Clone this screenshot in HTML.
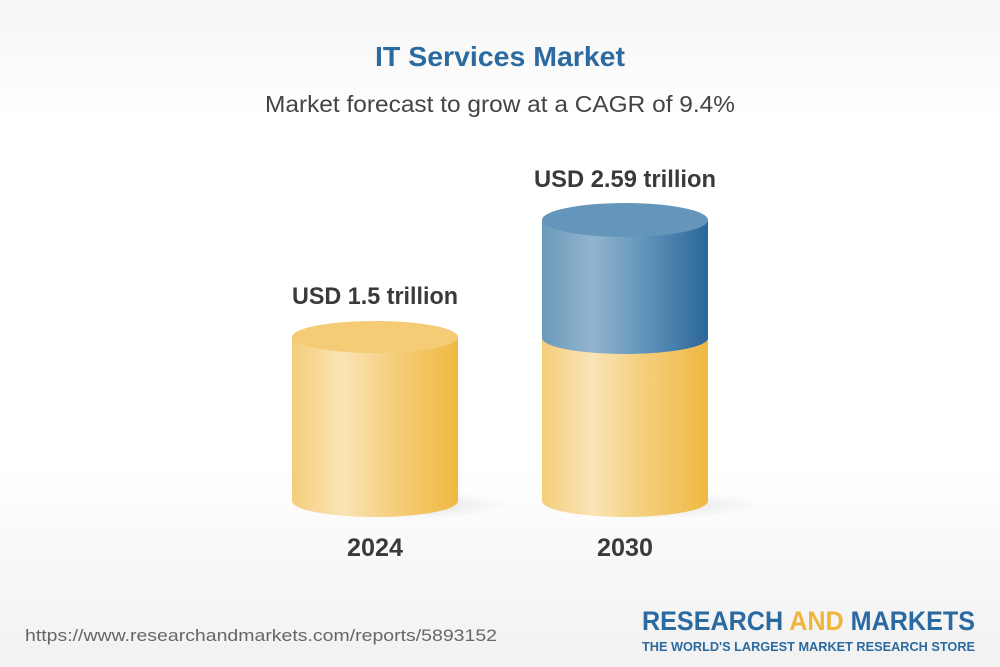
<!DOCTYPE html>
<html><head><style>
body{margin:0;width:1000px;height:667px;overflow:hidden;font-family:"Liberation Sans",Arial,sans-serif;background:linear-gradient(#f6f6f6 0%,#fff 18%,#fff 70%,#f1f1f1 100%);position:relative}
</style></head><body>
<svg width="1000" height="667" style="position:absolute;left:0;top:0">
<defs>
<linearGradient id="y" x1="0" x2="1"><stop offset="0" stop-color="#f4cd7a"/><stop offset="0.3" stop-color="#fae4b6"/><stop offset="0.6" stop-color="#f5cf7e"/><stop offset="1" stop-color="#efb842"/></linearGradient>
<linearGradient id="b" x1="0" x2="1"><stop offset="0" stop-color="#6a9aba"/><stop offset="0.3" stop-color="#93b4cd"/><stop offset="0.6" stop-color="#6496bc"/><stop offset="1" stop-color="#2a6699"/></linearGradient>
<radialGradient id="sh"><stop offset="0" stop-color="#000" stop-opacity="0.12"/><stop offset="1" stop-color="#000" stop-opacity="0"/></radialGradient>
</defs>
<text x="500" y="66" text-anchor="middle" font-size="28" font-weight="bold" fill="#2d6a9f" textLength="250" lengthAdjust="spacingAndGlyphs">IT Services Market</text>
<text x="500" y="112" text-anchor="middle" font-size="23" fill="#444" textLength="470" lengthAdjust="spacingAndGlyphs">Market forecast to grow at a CAGR of 9.4%</text>
<ellipse cx="400" cy="505" rx="110" ry="14" fill="url(#sh)"/>
<ellipse cx="650" cy="505" rx="110" ry="14" fill="url(#sh)"/>
<path d="M292 337 V501 A83 16 0 0 0 458 501 V337 Z" fill="url(#y)"/>
<ellipse cx="375" cy="337" rx="83" ry="16" fill="#f5cc75"/>
<path d="M542 338 V501 A83 16 0 0 0 708 501 V338 Z" fill="url(#y)"/>
<path d="M542 220 V338 A83 16 0 0 0 708 338 V220 Z" fill="url(#b)"/>
<ellipse cx="625" cy="220" rx="83" ry="17" fill="#6496bb"/>
<text x="375" y="304" text-anchor="middle" font-size="24" font-weight="bold" fill="#3a3a3a" textLength="166" lengthAdjust="spacingAndGlyphs">USD 1.5 trillion</text>
<text x="625" y="187" text-anchor="middle" font-size="24" font-weight="bold" fill="#3a3a3a" textLength="182" lengthAdjust="spacingAndGlyphs">USD 2.59 trillion</text>
<text x="375" y="556" text-anchor="middle" font-size="25" font-weight="bold" fill="#3a3a3a" textLength="56" lengthAdjust="spacingAndGlyphs">2024</text>
<text x="625" y="556" text-anchor="middle" font-size="25" font-weight="bold" fill="#3a3a3a" textLength="56" lengthAdjust="spacingAndGlyphs">2030</text>
<text x="25" y="641" font-size="17" fill="#666" textLength="472" lengthAdjust="spacingAndGlyphs">https://www.researchandmarkets.com/reports/5893152</text>
<text x="975" y="630" text-anchor="end" font-size="27" font-weight="bold" fill="#2b6aa0" textLength="333" lengthAdjust="spacingAndGlyphs">RESEARCH <tspan fill="#f0b63c">AND</tspan> MARKETS</text>
<text x="975" y="651" text-anchor="end" font-size="13" font-weight="bold" fill="#2b6aa0" textLength="333" lengthAdjust="spacingAndGlyphs">THE WORLD'S LARGEST MARKET RESEARCH STORE</text>
</svg>
</body></html>
